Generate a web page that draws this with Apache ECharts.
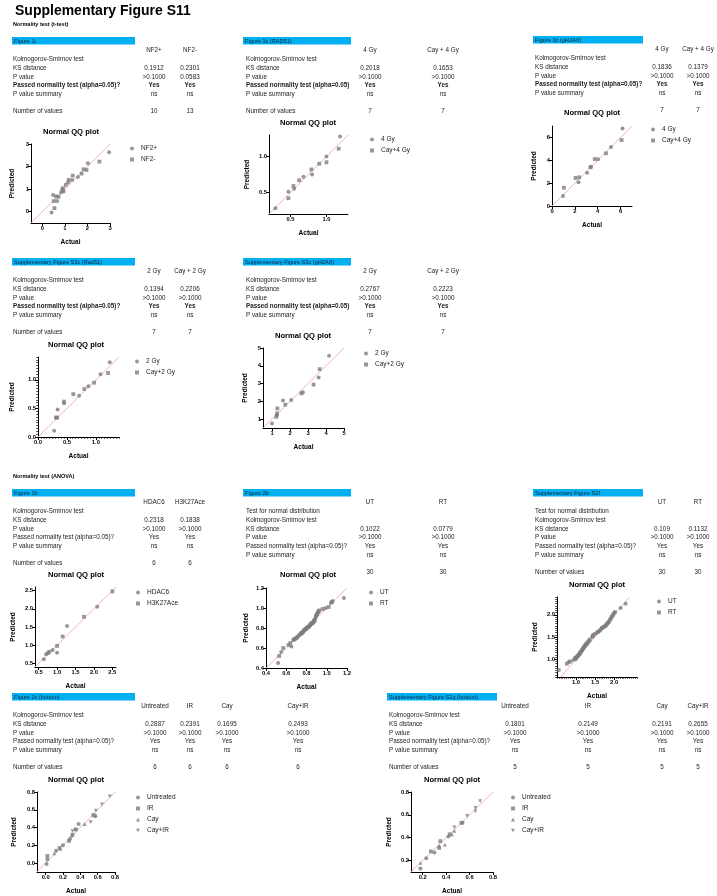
<!DOCTYPE html>
<html>
<head>
<meta charset="utf-8">
<script src="https://cdn.jsdelivr.net/npm/echarts@6/dist/echarts.min.js"></script>
<style>
  html, body { margin: 0; padding: 0; background: #fff; }
  #main { width: 717px; height: 896px; }
</style>
</head>
<body>
<div id="main"></div>
<script>
var FONT = '"Liberation Sans", Arial, sans-serif';

// ---------- table contents ----------
var yes2 = ['Yes', 'Yes'], ns2 = ['ns', 'ns'];
var yes4 = ['Yes', 'Yes', 'Yes', 'Yes'], ns4 = ['ns', 'ns', 'ns', 'ns'];

var fig1iGroups = ['NF2+', 'NF2-'];
var fig1iKs = ['0.1912', '0.2301'];
var fig1iP = ['>0.1000', '0.0583'];
var fig1iN = ['10', '13'];

var fig3cRadGroups = ['4 Gy', 'Cay + 4 Gy'];
var fig3cRadKs = ['0.2018', '0.1653'];
var fig3cRadP = ['>0.1000', '>0.1000'];
var fig3cRadN = ['7', '7'];

var fig3cGhGroups = ['4 Gy', 'Cay + 4 Gy'];
var fig3cGhKs = ['0.1836', '0.1379'];
var fig3cGhP = ['>0.1000', '>0.1000'];
var fig3cGhN = ['7', '7'];

var s3cRadGroups = ['2 Gy', 'Cay + 2 Gy'];
var s3cRadKs = ['0.1394', '0.2206'];
var s3cRadP = ['>0.1000', '>0.1000'];
var s3cRadN = ['7', '7'];

var s3cGhGroups = ['2 Gy', 'Cay + 2 Gy'];
var s3cGhKs = ['0.2767', '0.2223'];
var s3cGhP = ['>0.1000', '>0.1000'];
var s3cGhN = ['7', '7'];

var fig1bGroups = ['HDAC6', 'H3K27Ace'];
var fig1bKs = ['0.2318', '0.1838'];
var fig1bP = ['>0.1000', '>0.1000'];
var fig1bN = ['6', '6'];

var fig2bGroups = ['UT', 'RT'];
var fig2bKs = ['0.1022', '0.0779'];
var fig2bP = ['>0.1000', '>0.1000'];
var fig2bN = ['30', '30'];

var s2fGroups = ['UT', 'RT'];
var s2fKs = ['0.109', '0.1132'];
var s2fP = ['>0.1000', '>0.1000'];
var s2fN = ['30', '30'];

var fig2cGroups = ['Untreated', 'IR', 'Cay', 'Cay+IR'];
var fig2cKs = ['0.2887', '0.2391', '0.1695', '0.2493'];
var fig2cP = ['>0.1000', '>0.1000', '>0.1000', '>0.1000'];
var fig2cN = ['6', '6', '6', '6'];

var s2gGroups = ['Untreated', 'IR', 'Cay', 'Cay+IR'];
var s2gKs = ['0.1801', '0.2149', '0.2191', '0.2655'];
var s2gP = ['>0.1000', '>0.1000', '>0.1000', '>0.1000'];
var s2gN = ['5', '5', '5', '5'];

// ---------- QQ points [actual, predicted] ----------
var fig1iNF2p = [[0.41,-0.03],[0.48,0.74],[0.66,0.47],[0.83,0.85],[0.95,0.90],[1.14,1.29],[1.32,1.41],[1.58,1.54],[2.02,2.15],[2.96,2.63]];
var fig1iNF2m = [[0.54,0.16],[0.51,0.47],[0.61,0.68],[0.72,0.66],[0.88,0.98],[0.92,1.04],[1.04,1.19],[1.17,1.41],[1.35,1.60],[1.74,1.69],[1.83,1.88],[1.96,1.85],[2.53,2.22]];

var fig3cRad4 = [[0.29,0.28],[0.47,0.51],[0.55,0.55],[0.68,0.72],[0.80,0.75],[1.00,1.00],[1.19,1.28]];
var fig3cRadCay = [[0.47,0.42],[0.54,0.59],[0.62,0.67],[0.79,0.82],[0.90,0.90],[1.00,0.92],[1.17,1.11]];

var fig3cGh4 = [[0.96,0.87],[2.32,2.07],[3.07,2.92],[3.42,3.44],[4.03,4.08],[5.16,5.16],[6.17,6.79]];
var fig3cGhCay = [[1.04,1.60],[2.06,2.45],[2.38,2.51],[3.36,3.38],[3.74,4.11],[4.72,4.61],[6.09,5.77]];

var s3cRad2 = [[0.28,0.11],[0.34,0.48],[0.45,0.59],[0.71,0.72],[0.87,0.89],[1.08,1.10],[1.24,1.31]];
var s3cRadCay = [[0.31,0.34],[0.33,0.34],[0.45,0.62],[0.61,0.75],[0.80,0.84],[0.97,0.95],[1.21,1.12]];

var s3cGh2 = [[1.00,0.75],[1.28,1.23],[1.61,2.04],[2.07,2.08],[2.72,2.51],[3.59,3.34],[4.17,4.57]];
var s3cGhCay = [[1.24,1.13],[1.30,1.60],[1.74,1.81],[2.63,2.45],[3.31,2.94],[3.65,3.81],[1.28,1.32]];

var fig1bHdac = [[0.64,0.61],[0.70,0.75],[0.88,0.87],[1.00,0.79],[1.27,1.53],[2.09,2.06]];
var fig1bH3k = [[0.75,0.78],[0.79,0.82],[1.00,0.98],[1.15,1.24],[1.73,1.78],[2.50,2.48]];

var fig2bUT = [[0.52,0.45],[0.55,0.56],[0.62,0.63],[0.65,0.615],[0.69,0.69],[0.72,0.72],[0.74,0.74],[0.75,0.75],[0.76,0.755],[0.77,0.77],[0.78,0.78],[0.79,0.79],[0.80,0.80],[0.81,0.805],[0.82,0.81],[0.83,0.82],[0.84,0.835],[0.85,0.84],[0.86,0.85],[0.87,0.86],[0.88,0.88],[0.885,0.89],[0.89,0.91],[0.90,0.93],[0.91,0.95],[0.92,0.97],[0.99,1.00],[1.04,1.05],[1.06,1.07],[1.17,1.10]];
var fig2bRT = [[0.53,0.52],[0.57,0.60],[0.64,0.65],[0.67,0.68],[0.70,0.70],[0.71,0.71],[0.73,0.73],[0.745,0.745],[0.755,0.75],[0.765,0.76],[0.775,0.775],[0.785,0.785],[0.795,0.79],[0.80,0.795],[0.815,0.81],[0.825,0.815],[0.835,0.83],[0.845,0.845],[0.855,0.85],[0.865,0.855],[0.875,0.87],[0.88,0.875],[0.895,0.92],[0.905,0.94],[0.915,0.96],[0.925,0.975],[0.96,0.99],[1.02,1.01],[1.05,1.06],[0.68,0.69]];

var s2fUT = [[0.55,0.76],[0.81,0.94],[0.94,0.99],[1.00,1.02],[1.03,1.06],[1.06,1.09],[1.09,1.12],[1.11,1.15],[1.14,1.18],[1.17,1.22],[1.20,1.26],[1.23,1.30],[1.26,1.33],[1.30,1.37],[1.34,1.42],[1.42,1.50],[1.45,1.55],[1.55,1.60],[1.60,1.63],[1.66,1.68],[1.71,1.72],[1.76,1.74],[1.80,1.78],[1.84,1.82],[1.88,1.87],[1.92,1.93],[1.96,1.98],[2.00,2.04],[2.17,2.15],[2.30,2.25]];
var s2fRT = [[0.76,0.90],[0.85,0.95],[0.98,1.00],[1.01,1.04],[1.04,1.07],[1.07,1.10],[1.10,1.13],[1.12,1.16],[1.15,1.20],[1.18,1.24],[1.21,1.27],[1.24,1.31],[1.28,1.35],[1.32,1.39],[1.36,1.44],[1.44,1.52],[1.50,1.57],[1.57,1.61],[1.63,1.65],[1.68,1.70],[1.73,1.73],[1.78,1.76],[1.82,1.80],[1.86,1.84],[1.90,1.90],[1.94,1.96],[1.98,2.01],[2.02,2.06],[0.98,1.03],[1.27,1.34]];

var fig2cUntr = [[0.01,-0.01],[0.02,0.04],[0.12,0.14],[0.20,0.20],[0.28,0.27],[0.38,0.44]];
var fig2cIR = [[0.02,0.08],[0.16,0.17],[0.27,0.25],[0.31,0.32],[0.35,0.38],[0.55,0.54]];
var fig2cCay = [[0.10,0.11],[0.17,0.16],[0.30,0.31],[0.45,0.44],[0.57,0.53],[0.58,0.54]];
var fig2cCayIR = [[0.31,0.36],[0.34,0.37],[0.52,0.46],[0.58,0.59],[0.65,0.66],[0.74,0.75]];

var s2gUntr = [[0.18,0.13],[0.23,0.22],[0.30,0.27],[0.42,0.41],[0.54,0.53]];
var s2gIR = [[0.27,0.28],[0.34,0.31],[0.35,0.37],[0.43,0.43],[0.53,0.53]];
var s2gCay = [[0.18,0.18],[0.34,0.33],[0.39,0.34],[0.45,0.43],[0.47,0.46]];
var s2gCayIR = [[0.47,0.49],[0.58,0.59],[0.65,0.63],[0.65,0.66],[0.69,0.72]];

// ---------- axis ranges and tick labels ----------
var fig1iRange = [-0.5, 3], fig1iTicks = [0, 1, 2, 3];
var fig3cRadRange = [0.2, 1.3], fig3cRadTicks = [0.5, 1.0];
var fig3cGhRange = [0, 7], fig3cGhTicks = [0, 2, 4, 6];
var s3cRadRange = [0, 1.4], s3cRadTicks = [0, 0.5, 1.0];
var s3cGhRange = [0.5, 5], s3cGhTicks = [1, 2, 3, 4, 5];
var fig1bRange = [0.4, 2.6], fig1bTicks = [0.5, 1.0, 1.5, 2.0, 2.5];
var fig2bRange = [0.4, 1.2], fig2bTicks = [0.4, 0.6, 0.8, 1.0, 1.2];
var s2fXRange = [0.5, 2.6], s2fYRange = [0.6, 2.4], s2fTicks = [1.0, 1.5, 2.0];
var fig2cRange = [-0.1, 0.8], fig2cTicks = [0.0, 0.2, 0.4, 0.6, 0.8];
var s2gRange = [0.1, 0.8], s2gTicks = [0.2, 0.4, 0.6, 0.8];

var INV_TRI = 'path://M0,0 L10,0 L5,9 Z';
var SYMS = ['circle', 'rect', 'triangle', INV_TRI];

// ---------- layout of the panels ----------
var passQ = 'Passed normality test (alpha=0.05)?';
var passNoQ = 'Passed normality test (alpha=0.05)';

var panels = [
  { bar: [12, 37, 123], caption: 'Figure 1i', lx: 13, cols: [154, 190], groups: fig1iGroups, ks: fig1iKs, p: fig1iP, pass: yes2, sum: ns2, n: fig1iN,
    passLabel: passQ, bold: true, showN: true,
    title: [71, 132], grid: [31, 144, 79, 79], xr: fig1iRange, yr: fig1iRange, xt: fig1iTicks, yt: fig1iTicks, dec: 0, ygap: 15,
    series: [fig1iNF2p, fig1iNF2m], legend: [130, 145] },
  { bar: [243, 37, 108], caption: 'Figure 3c (RAD51)', lx: 246, cols: [370, 443], groups: fig3cRadGroups, ks: fig3cRadKs, p: fig3cRadP, pass: yes2, sum: ns2, n: fig3cRadN,
    passLabel: passNoQ, bold: true, showN: true,
    title: [308, 123], grid: [269, 135, 79, 79], xr: fig3cRadRange, yr: fig3cRadRange, xt: fig3cRadTicks, yt: fig3cRadTicks, dec: 1, ygap: 18,
    series: [fig3cRad4, fig3cRadCay], names: ['4 Gy', 'Cay+4 Gy'], legend: [370, 136] },
  { bar: [533, 36, 110], caption: 'Figure 3c (gH2AX)', lx: 535, cols: [662, 698], groups: fig3cGhGroups, ks: fig3cGhKs, p: fig3cGhP, pass: yes2, sum: ns2, n: fig3cGhN,
    passLabel: passQ, bold: true, showN: false,
    title: [592, 113], grid: [552, 126, 80, 80], xr: fig3cGhRange, yr: fig3cGhRange, xt: fig3cGhTicks, yt: fig3cGhTicks, dec: 0, ygap: 14,
    series: [fig3cGh4, fig3cGhCay], names: ['4 Gy', 'Cay+4 Gy'], legend: [651, 126] },
  { bar: [12, 258, 123], caption: 'Supplementary Figure S3c (Rad51)', lx: 13, cols: [154, 190], groups: s3cRadGroups, ks: s3cRadKs, p: s3cRadP, pass: yes2, sum: ns2, n: s3cRadN,
    passLabel: passQ, bold: true, showN: true,
    title: [76, 345], grid: [38, 357, 81, 80], xr: s3cRadRange, yr: s3cRadRange, xt: s3cRadTicks, yt: s3cRadTicks, dec: 1, ygap: 22, minor: 0.05,
    series: [s3cRad2, s3cRadCay], names: ['2 Gy', 'Cay+2 Gy'], legend: [135, 358] },
  { bar: [243, 258, 108], caption: 'Supplementary Figure S3c (gH2AX)', lx: 246, cols: [370, 443], groups: s3cGhGroups, ks: s3cGhKs, p: s3cGhP, pass: yes2, sum: ns2, n: s3cGhN,
    passLabel: passNoQ, bold: true, showN: false,
    title: [303, 336], grid: [263, 348, 81, 80], xr: s3cGhRange, yr: s3cGhRange, xt: s3cGhTicks, yt: s3cGhTicks, dec: 0, ygap: 14,
    series: [s3cGh2, s3cGhCay], names: ['2 Gy', 'Cay+2 Gy'], legend: [364, 350] },
  { bar: [12, 489, 123], caption: 'Figure 1b', lx: 13, cols: [154, 190], groups: fig1bGroups, ks: fig1bKs, p: fig1bP, pass: yes2, sum: ns2, n: fig1bN,
    passLabel: passQ, bold: false, showN: true,
    title: [76, 575], grid: [35, 587, 81, 80], xr: fig1bRange, yr: fig1bRange, xt: fig1bTicks, yt: fig1bTicks, dec: 1, ygap: 18,
    series: [fig1bHdac, fig1bH3k], legend: [136, 589] },
  { bar: [243, 489, 108], caption: 'Figure 2b', lx: 246, cols: [370, 443], groups: fig2bGroups, ks: fig2bKs, p: fig2bP, pass: yes2, sum: ns2, n: fig2bN,
    passLabel: passQ, bold: false, showN: false, extra: true,
    title: [308, 575], grid: [266, 588, 81, 80], xr: fig2bRange, yr: fig2bRange, xt: fig2bTicks, yt: fig2bTicks, dec: 1, ygap: 16,
    series: [fig2bUT, fig2bRT], legend: [369, 589] },
  { bar: [533, 489, 110], caption: 'Supplementary Figure S2f', lx: 535, cols: [662, 698], groups: s2fGroups, ks: s2fKs, p: s2fP, pass: yes2, sum: ns2, n: s2fN,
    passLabel: passQ, bold: false, showN: true, extra: true,
    title: [597, 585], grid: [557, 597, 80, 80], xr: s2fXRange, yr: s2fYRange, xt: s2fTicks, yt: s2fTicks, dec: 1, ygap: 18, minor: 0.05,
    series: [s2fUT, s2fRT], legend: [657, 598] },
  { bar: [12, 693, 123], caption: 'Figure 2c (bottom)', lx: 13, cols: [155, 190, 227, 298], groups: fig2cGroups, ks: fig2cKs, p: fig2cP, pass: yes4, sum: ns4, n: fig2cN,
    passLabel: passQ, bold: false, showN: true,
    title: [76, 780], grid: [37, 792, 78, 80], xr: fig2cRange, yr: fig2cRange, xt: fig2cTicks, yt: fig2cTicks, dec: 1, ygap: 19,
    series: [fig2cUntr, fig2cIR, fig2cCay, fig2cCayIR], legend: [136, 794] },
  { bar: [387, 693, 110], caption: 'Supplementary Figure S2g (bottom)', lx: 389, cols: [515, 588, 662, 698], groups: s2gGroups, ks: s2gKs, p: s2gP, pass: yes4, sum: ns4, n: s2gN,
    passLabel: passQ, bold: false, showN: true,
    title: [452, 780], grid: [411, 792, 82, 80], xr: s2gRange, yr: s2gRange, xt: s2gTicks, yt: s2gTicks, dec: 1, ygap: 18,
    series: [s2gUntr, s2gIR, s2gCay, s2gCayIR], legend: [511, 794] }
];

function txt(x, y, s, size, weight, align, color) {
  return {
    type: 'text', x: x, y: y, silent: true,
    style: {
      text: s, fontSize: size, fontWeight: weight || 'normal', fontFamily: FONT,
      fill: color || '#1c1c1c', align: align || 'left', verticalAlign: 'middle',
      textAlign: align || 'left', textVerticalAlign: 'middle'
    }
  };
}

var graphics = [
  txt(15, 11, 'Supplementary Figure S11', 14, 'bold', 'left', '#000'),
  txt(13, 24, 'Normality test (t-test)', 5.5, 'bold', 'left', '#000'),
  txt(13, 476, 'Normality test (ANOVA)', 5.5, 'bold', 'left', '#000')
];

var STEP = 8.7, TS = 6.3;

function addTable(t) {
  var bx = t.bar[0], by = t.bar[1];
  graphics.push({ type: 'rect', silent: true, shape: { x: bx, y: by, width: t.bar[2], height: 7.5 }, style: { fill: '#00b0f0' } });
  graphics.push(txt(bx + 2, by + 4, t.caption, 5.6, 'normal', 'left', '#10233a'));
  t.groups.forEach(function (g, i) { graphics.push(txt(t.cols[i], by + 13.5, g, TS, 'normal', 'center')); });
  var rows = [];
  if (t.extra) rows.push(['Test for normal distribution', null, false]);
  rows.push(['Kolmogorov-Smirnov test', null, false]);
  rows.push(['KS distance', t.ks, false]);
  rows.push(['P value', t.p, false]);
  rows.push([t.passLabel, t.pass, t.bold]);
  rows.push(['P value summary', t.sum, false]);
  var y = by + 22.5;
  rows.forEach(function (r) {
    var w = r[2] ? 'bold' : 'normal';
    graphics.push(txt(t.lx, y, r[0], TS, w, 'left'));
    if (r[1]) r[1].forEach(function (v, i) { graphics.push(txt(t.cols[i], y, v, TS, w, 'center')); });
    y += STEP;
  });
  y += STEP;
  if (t.showN) graphics.push(txt(t.lx, y, 'Number of values', TS, 'normal', 'left'));
  t.n.forEach(function (v, i) { graphics.push(txt(t.cols[i], y, v, TS, 'normal', 'center')); });
}

var option = {
  backgroundColor: '#fff',
  animation: false,
  grid: [], xAxis: [], yAxis: [], series: [], legend: [],
  graphic: { elements: graphics }
};

function minorList(r, step) {
  var out = [];
  for (var v = Math.ceil(r[0] / step - 1e-9) * step; v <= r[1] + 1e-9; v += step) out.push(+v.toFixed(4));
  return out;
}

function axisBase(gi, r, ticks, dec, isX, gap) {
  return {
    type: 'value', gridIndex: gi, min: r[0], max: r[1],
    position: isX ? 'bottom' : 'left',
    name: isX ? 'Actual' : 'Predicted', nameLocation: 'middle', nameGap: gap,
    nameRotate: isX ? 0 : 90,
    nameTextStyle: { fontFamily: FONT, fontWeight: 'bold', fontSize: 6.5, color: '#000' },
    axisLine: { show: true, onZero: false, lineStyle: { color: '#000', width: 1 } },
    axisTick: { show: true, length: 3, customValues: ticks, lineStyle: { color: '#000', width: 1 } },
    axisLabel: { customValues: ticks, margin: 2, fontFamily: FONT, fontWeight: 'bold', fontSize: 5.8, color: '#000',
      formatter: function (v) { return (+v).toFixed(dec); } },
    splitLine: { show: false }
  };
}

function minorAxis(gi, r, step, isX) {
  return {
    type: 'value', gridIndex: gi, min: r[0], max: r[1], position: isX ? 'bottom' : 'left',
    axisLine: { show: false, onZero: false },
    axisTick: { show: true, length: 1.8, customValues: minorList(r, step), lineStyle: { color: '#000', width: 0.7 } },
    axisLabel: { show: false }, splitLine: { show: false }
  };
}

function addChart(p) {
  var gi = option.grid.length;
  option.grid.push({ left: p.grid[0], top: p.grid[1], width: p.grid[2], height: p.grid[3] });
  var xi = option.xAxis.length, yi = option.yAxis.length;
  option.xAxis.push(axisBase(gi, p.xr, p.xt, p.dec, true, 16));
  option.yAxis.push(axisBase(gi, p.yr, p.yt, p.dec, false, p.ygap));
  if (p.minor) {
    option.xAxis.push(minorAxis(gi, p.xr, p.minor, true));
    option.yAxis.push(minorAxis(gi, p.yr, p.minor, false));
  }
  graphics.push(txt(p.title[0], p.title[1], 'Normal QQ plot', 7.6, 'bold', 'center', '#000'));

  var lo = Math.max(p.xr[0], p.yr[0]), hi = Math.min(p.xr[1], p.yr[1]);
  option.series.push({
    type: 'line', xAxisIndex: xi, yAxisIndex: yi, silent: true, symbol: 'none', z: 1,
    data: [[lo, lo], [hi, hi]],
    lineStyle: { color: '#f3a49b', width: 0.8 }
  });
  var names = p.names || p.groups;
  p.series.forEach(function (d, k) {
    option.series.push({
      type: 'scatter', name: names[k], xAxisIndex: xi, yAxisIndex: yi, data: d,
      symbol: SYMS[k], symbolSize: k === 0 ? 4 : 3.8, z: 3,
      itemStyle: { color: '#7d7d7d' }
    });
  });
  option.legend.push({
    orient: 'vertical', left: p.legend[0], top: p.legend[1],
    itemWidth: 4, itemHeight: 4, itemGap: 4, padding: 0,
    data: names.map(function (n, k) { return { name: n, icon: SYMS[k] }; }),
    textStyle: { fontFamily: FONT, fontSize: 6.5, color: '#1c1c1c', padding: [0, 0, 0, 2] },
    selectedMode: false
  });
}

panels.forEach(function (p) { addTable(p); addChart(p); });

var chart = echarts.init(document.getElementById('main'), null, { renderer: 'canvas' });
chart.setOption(option);
</script>
</body>
</html>
